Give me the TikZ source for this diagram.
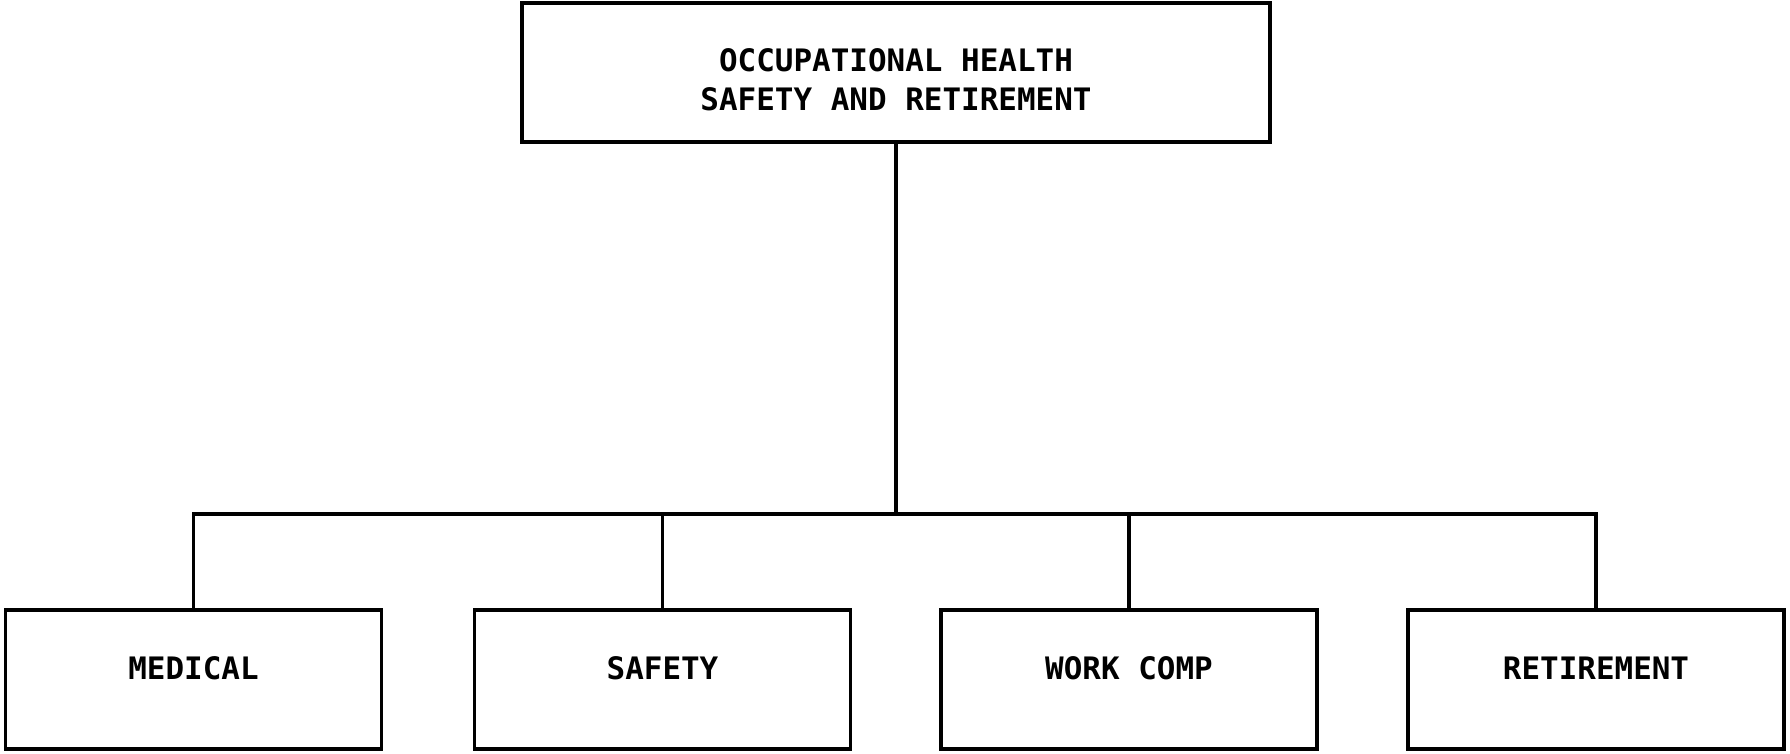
\documentclass[tikz,border=0pt]{standalone}
\usepackage{fontspec}
\newfontfamily\plotfont{DejaVu Sans Mono}
\usetikzlibrary{positioning}
\tikzset{
    office/.style={
    rectangle,draw=black,line width=0.9pt,minimum width=3.76cm,minimum height=1.39cm,
    font=\plotfont\bfseries\fontsize{8.8}{11}\selectfont,align=center,text depth=0.22cm
    },
    head/.style={
    office,minimum width=7.48cm,text height=0.76cm,text depth=0cm
    },
    link/.style={
    draw=black,line width=0.9pt
    },
}
\begin{document}
\begin{tikzpicture}
   \useasboundingbox (0,0) rectangle (17.9,7.53);
   \node[head] (OH) at (8.96,6.805) {OCCUPATIONAL HEALTH\\SAFETY AND RETIREMENT};
   \node[office] (Med) at (1.935,0.735) {MEDICAL};
   \node[office] (Saf) at (6.625,0.735) {SAFETY};
   \node[office] (WC) at (11.29,0.735) {WORK COMP};
   \node[office] (Ret) at (15.96,0.735) {RETIREMENT};
   \coordinate (bus) at (8.96,2.39);

  \path[link]
    (OH.south) -- (bus)
    (Med.north) -- (Med.north |- bus) -- (Ret.north |- bus) -- (Ret.north)
    (Saf.north) -- (Saf.north |- bus)
    (WC.north) -- (WC.north |- bus);
\end{tikzpicture}
\end{document}
